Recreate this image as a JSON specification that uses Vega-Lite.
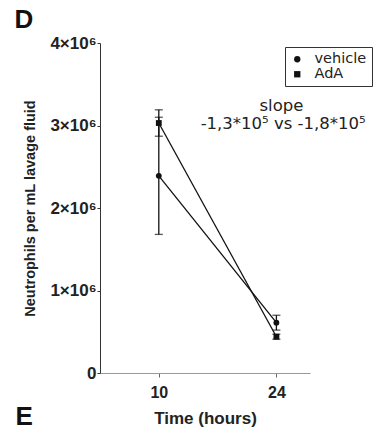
{
  "$schema": "https://vega.github.io/schema/vega-lite/v6.json",
  "width": 210,
  "height": 330,
  "autosize": {"type": "none"},
  "padding": {"left": 100, "top": 43, "right": 66, "bottom": 59},
  "background": "white",
  "config": {
    "view": {"stroke": null},
    "font": "Liberation Sans",
    "axis": {"grid": false, "labelFont": "Liberation Sans", "titleFont": "Liberation Sans"}
  },
  "datasets": {
    "points": [
      {"group": "vehicle", "time": 10, "mean": 2390000, "lo": 1680000, "hi": 3100000},
      {"group": "AdA", "time": 10, "mean": 3030000, "lo": 2870000, "hi": 3190000},
      {"group": "vehicle", "time": 24, "mean": 610000, "lo": 520000, "hi": 700000},
      {"group": "AdA", "time": 24, "mean": 440000, "lo": 410000, "hi": 470000}
    ],
    "notes": [
      {"label": "slope", "x": 24.6, "y": 3170000},
      {"label": "-1,3*10⁵ vs -1,8*10⁵", "x": 24.8, "y": 2960000}
    ],
    "panels": [
      {"label": "D", "x": -7.17, "y": 4180000},
      {"label": "E", "x": -7.05, "y": -630000}
    ]
  },
  "layer": [
    {
      "data": {"name": "points"},
      "mark": {"type": "line", "color": "#111", "strokeWidth": 1.3},
      "encoding": {
        "x": {
          "field": "time", "type": "quantitative",
          "scale": {"domain": [3, 28], "nice": false, "zero": false},
          "axis": {
            "values": [10, 24], "title": "Time (hours)",
            "labelFontSize": 16, "labelFontWeight": "bold", "labelColor": "#222", "labelPadding": 7,
            "titleFontSize": 17, "titleFontWeight": "bold", "titleColor": "#222", "titlePadding": 10,
            "domainColor": "#999", "tickColor": "#666", "tickSize": 4
          }
        },
        "y": {
          "field": "mean", "type": "quantitative",
          "scale": {"domain": [0, 4000000], "nice": false},
          "axis": {
            "values": [0, 1000000, 2000000, 3000000, 4000000],
            "labelExpr": "datum.value == 0 ? '0' : format(datum.value / 1000000, 'd') + '×10⁶'",
            "title": "Neutrophils per mL lavage fluid",
            "labelFontSize": 17, "labelFontWeight": "bold", "labelColor": "#222", "labelPadding": 1,
            "titleFontSize": 14.5, "titleFontWeight": "bold", "titleColor": "#222", "titlePadding": 12,
            "domainColor": "#333", "tickColor": "#333", "tickSize": 3
          }
        },
        "detail": {"field": "group"}
      }
    },
    {
      "data": {"name": "points"},
      "mark": {"type": "rule", "color": "#111", "strokeWidth": 1.3},
      "encoding": {
        "x": {"field": "time", "type": "quantitative"},
        "y": {"field": "lo", "type": "quantitative"},
        "y2": {"field": "hi"}
      }
    },
    {
      "data": {"name": "points"},
      "mark": {"type": "tick", "orient": "horizontal", "color": "#111", "size": 8, "thickness": 1.3},
      "encoding": {
        "x": {"field": "time", "type": "quantitative"},
        "y": {"field": "lo", "type": "quantitative"}
      }
    },
    {
      "data": {"name": "points"},
      "mark": {"type": "tick", "orient": "horizontal", "color": "#111", "size": 8, "thickness": 1.3},
      "encoding": {
        "x": {"field": "time", "type": "quantitative"},
        "y": {"field": "hi", "type": "quantitative"}
      }
    },
    {
      "data": {"name": "points"},
      "mark": {"type": "point", "filled": true, "color": "#111", "opacity": 1},
      "encoding": {
        "x": {"field": "time", "type": "quantitative"},
        "y": {"field": "mean", "type": "quantitative"},
        "shape": {
          "field": "group", "type": "nominal",
          "scale": {"domain": ["vehicle", "AdA"], "range": ["circle", "square"]},
          "legend": {
            "title": null, "orient": "none", "legendX": 185, "legendY": 4,
            "strokeColor": "#333", "padding": 5, "labelFontSize": 14.5, "labelColor": "#222",
            "labelFont": "DejaVu Sans", "symbolSize": 40, "symbolFillColor": "#111",
            "symbolStrokeColor": "#111", "symbolStrokeWidth": 1, "rowPadding": 0, "labelOffset": 10
          }
        },
        "size": {"value": 34}
      }
    },
    {
      "data": {"name": "notes"},
      "mark": {"type": "text", "fontSize": 16.5, "font": "DejaVu Sans", "color": "#222", "align": "center", "baseline": "alphabetic"},
      "encoding": {
        "x": {"field": "x", "type": "quantitative"},
        "y": {"field": "y", "type": "quantitative"},
        "text": {"field": "label"}
      }
    },
    {
      "data": {"name": "panels"},
      "mark": {"type": "text", "fontSize": 26, "fontWeight": "bold", "color": "#111", "align": "left", "baseline": "alphabetic"},
      "encoding": {
        "x": {"field": "x", "type": "quantitative"},
        "y": {"field": "y", "type": "quantitative"},
        "text": {"field": "label"}
      }
    }
  ]
}
